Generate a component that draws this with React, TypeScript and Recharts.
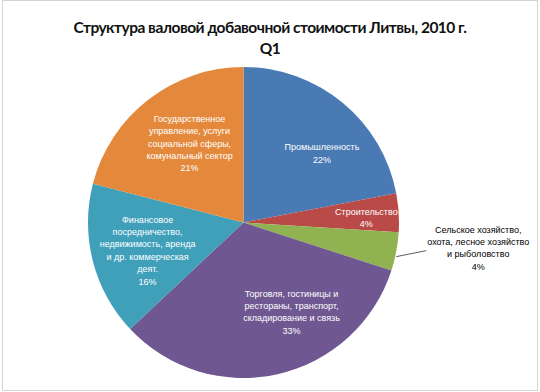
import React from 'react';
import { PieChart, Pie, Cell } from 'recharts';

const titleLine1 = 'Структура валовой добавочной стоимости Литвы, 2010 г.';
const titleLine2 = 'Q1';

const categoryLines: string[][] = [
  ['Промышленность'],
  ['Строительство'],
  ['Сельское хозяйство,', 'охота, лесное хозяйство', 'и рыболовство'],
  ['Торговля, гостиницы и', 'рестораны, транспорт,', 'складирование и связь'],
  ['Финансовое', 'посредничество,', 'недвижимость, аренда', 'и др. коммерческая', 'деят.'],
  ['Государственное', 'управление, услуги', 'социальной сферы,', 'комунальный сектор'],
];
const shares = [22, 4, 4, 33, 16, 21];

const colors = ['#4a7ab4', '#b94a47', '#90b250', '#6f5791', '#40a0ba', '#e4893c'];
// label nudges (px) relative to default position at 0.65 r along the mid angle
const labelNudge: [number, number][] = [
  [14, 9],
  [22, 2],
  [0, 0],
  [26, -9],
  [2, 3],
  [8, 1],
];
const outsideIndex = 2;

const data = shares.map((v, i) => ({ name: categoryLines[i].join(' '), value: v, lines: categoryLines[i] }));

const RAD = Math.PI / 180;
const FONT = '"Liberation Sans", Arial, sans-serif';

const renderLabel = (props: any) => {
  const { cx, cy, midAngle, outerRadius, index, percent } = props;
  const lines: string[] = [...categoryLines[index], `${Math.round(percent * 100)}%`];
  const lh = 12.4;
  if (index === outsideIndex) {
    const ex = cx + outerRadius * Math.cos(-midAngle * RAD);
    const ey = cy + outerRadius * Math.sin(-midAngle * RAD);
    const tx = ex + 82;
    const ty0 = ey - 19;
    return (
      <g>
        <text x={tx} y={ty0} textAnchor="middle" fontFamily={FONT} fontSize={9} fill="#000">
          {lines.map((l, k) => (
            <tspan key={k} x={tx} y={ty0 + k * lh}>{l}</tspan>
          ))}
        </text>
      </g>
    );
  }
  const r = outerRadius * 0.65;
  const x = cx + r * Math.cos(-midAngle * RAD) + labelNudge[index][0];
  const y = cy + r * Math.sin(-midAngle * RAD) + labelNudge[index][1];
  const y0 = y - ((lines.length - 1) * lh) / 2 + 3;
  return (
    <text x={x} y={y0} textAnchor="middle" fontFamily={FONT} fontSize={9} fill="#fff">
      {lines.map((l, k) => (
        <tspan key={k} x={x} y={y0 + k * lh}>{l}</tspan>
      ))}
    </text>
  );
};

const renderLabelLine = (props: any) => {
  const { cx, cy, midAngle, outerRadius, index } = props;
  if (index !== outsideIndex) return <g />;
  const ex = cx + outerRadius * Math.cos(-midAngle * RAD);
  const ey = cy + outerRadius * Math.sin(-midAngle * RAD);
  return <path d={`M${ex},${ey + 5}L${ex + 30},${ey - 1}`} stroke="#333" strokeWidth={0.8} fill="none" />;
};

export default function App() {
  return (
    <div style={{ position: 'absolute', left: 0, top: 0, width: 540, height: 392, background: '#fff' }}>
      <div
        style={{
          position: 'absolute', left: 2, top: 0, width: 534, height: 389,
          border: '1px solid #d4d4d4', boxSizing: 'content-box',
        }}
      />
      <div
        style={{
          position: 'absolute', left: 0, top: 17, width: 540, textAlign: 'center',
          fontFamily: 'Lato, "Open Sans", sans-serif', fontWeight: 700, fontSize: 15.5, lineHeight: '21px', color: '#111',
          letterSpacing: -0.5,
        }}
      >
        <div>{titleLine1}</div>
        <div>{titleLine2}</div>
      </div>
      <div style={{ position: 'absolute', left: 0, top: 0 }}>
        <PieChart width={540} height={392} margin={{ top: 0, right: 0, bottom: 0, left: 0 }}>
          <Pie
            data={data}
            dataKey="value"
            nameKey="name"
            cx={243.5}
            cy={222.5}
            outerRadius={155.5}
            innerRadius={0}
            startAngle={90}
            endAngle={-270}
            stroke="none"
            isAnimationActive={false}
            label={renderLabel}
            labelLine={renderLabelLine}
          >
            {data.map((d, i) => (
              <Cell key={d.name} fill={colors[i]} />
            ))}
          </Pie>
        </PieChart>
      </div>
    </div>
  );
}
